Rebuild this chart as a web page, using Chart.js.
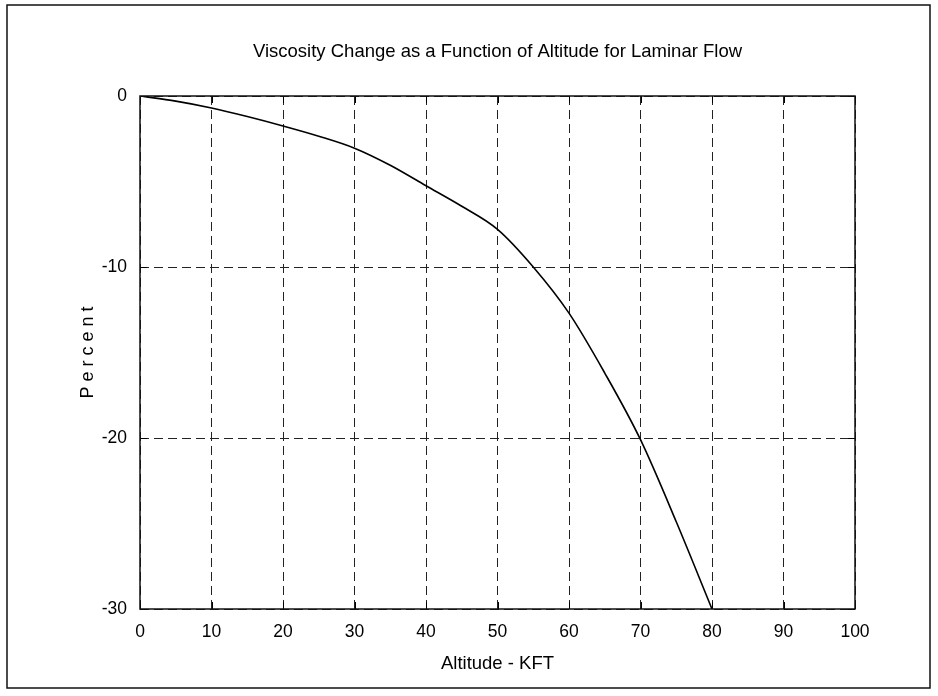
<!DOCTYPE html>
<html>
<head>
<meta charset="utf-8">
<script src="https://cdn.jsdelivr.net/npm/chart.js@4.4.1/dist/chart.umd.min.js"></script>
<style>
  html, body { margin: 0; padding: 0; background: #fff; }
  #wrap { width: 938px; height: 696px; position: relative; }
</style>
</head>
<body>
<div id="wrap"><canvas id="c" width="938" height="696"></canvas></div>
<script>
const chartTitle = 'Viscosity Change as a Function of Altitude for Laminar Flow';
const xAxisTitle = 'Altitude - KFT';
const yAxisTitle = 'P e r c e n t';
const altitudeKft = [0, 5, 10, 15, 20, 25, 30, 35, 40, 45, 50, 55, 60, 65, 70, 75, 80];
const viscosityPct = [0, -0.3, -0.7, -1.2, -1.75, -2.35, -3.05, -4.05, -5.25, -6.45, -7.8, -10.0, -12.7, -16.2, -20.1, -24.9, -30];
const xTicks = [0, 10, 20, 30, 40, 50, 60, 70, 80, 90, 100];
const yTicks = [0, -10, -20, -30];

const FONT = '"Liberation Sans", Arial, Helvetica, sans-serif';

const framePlugin = {
  id: 'frame',
  beforeDraw(chart) {
    const ctx = chart.ctx;
    ctx.save();
    ctx.fillStyle = '#fff';
    ctx.fillRect(0, 0, chart.width, chart.height);
    ctx.strokeStyle = '#111';
    ctx.lineWidth = 1.5;
    ctx.strokeRect(7, 5, 923, 683);
    ctx.fillStyle = '#000';
    ctx.font = '18.5px ' + FONT;
    ctx.textAlign = 'center';
    ctx.textBaseline = 'alphabetic';
    const a = chart.chartArea;
    ctx.fillText(chartTitle, (a.left + a.right) / 2, 57);
    ctx.restore();
  },
  afterDatasetsDraw(chart) {
    const ctx = chart.ctx;
    const a = chart.chartArea;
    const xs = chart.scales.x, ys = chart.scales.y;
    ctx.save();
    ctx.strokeStyle = '#000';
    ctx.lineWidth = 1;
    ctx.beginPath();
    xTicks.forEach(v => {
      const px = Math.round(xs.getPixelForValue(v)) + 0.5;
      ctx.moveTo(px, a.bottom); ctx.lineTo(px, a.bottom - 7);
      ctx.moveTo(px, a.top); ctx.lineTo(px, a.top + 7);
    });
    yTicks.forEach(v => {
      const py = Math.round(ys.getPixelForValue(v)) + 0.5;
      ctx.moveTo(a.left, py); ctx.lineTo(a.left + 7, py);
      ctx.moveTo(a.right, py); ctx.lineTo(a.right - 7, py);
    });
    ctx.stroke();
    ctx.strokeStyle = '#111';
    ctx.lineWidth = 1.5;
    ctx.strokeRect(a.left, a.top, a.right - a.left, a.bottom - a.top);
    ctx.restore();
  }
};

new Chart(document.getElementById('c'), {
  type: 'line',
  data: {
    datasets: [{
      data: altitudeKft.map((x, i) => ({ x: x, y: viscosityPct[i] })),
      borderColor: '#000',
      borderWidth: 1.6,
      pointRadius: 0,
      fill: false,
      cubicInterpolationMode: 'monotone'
    }]
  },
  options: {
    responsive: false,
    animation: false,
    layout: { padding: { left: 0, top: 96, right: 83, bottom: 0 } },
    plugins: { legend: { display: false }, tooltip: { enabled: false }, title: { display: false } },
    scales: {
      x: {
        type: 'linear', min: 0, max: 100,
        afterFit(s) { s.height = 87; },
        afterBuildTicks(s) { s.ticks = xTicks.map(v => ({ value: v })); },
        grid: {
          drawTicks: false, color: '#222', lineWidth: 1,
          tickBorderDash: [], 
        },
        border: { display: false, dash: [9, 5] },
        ticks: { padding: 13, color: '#000', font: { family: FONT, size: 17.5 }, maxRotation: 0, autoSkip: false },
        title: { display: true, text: xAxisTitle, color: '#000', font: { family: FONT, size: 18.5 }, padding: { top: 0, bottom: 21 } }
      },
      y: {
        type: 'linear', min: -30, max: 0,
        afterFit(s) { s.width = 140; },
        afterBuildTicks(s) { s.ticks = yTicks.map(v => ({ value: v })); },
        grid: { drawTicks: false, color: '#222', lineWidth: 1 },
        border: { display: false, dash: [9, 5] },
        ticks: { padding: 13, color: '#000', font: { family: FONT, size: 17.5 }, autoSkip: false },
        title: { display: true, text: yAxisTitle, color: '#000', font: { family: FONT, size: 18 }, padding: { top: 77, bottom: 0 } }
      }
    }
  },
  plugins: [framePlugin]
});
</script>
</body>
</html>
